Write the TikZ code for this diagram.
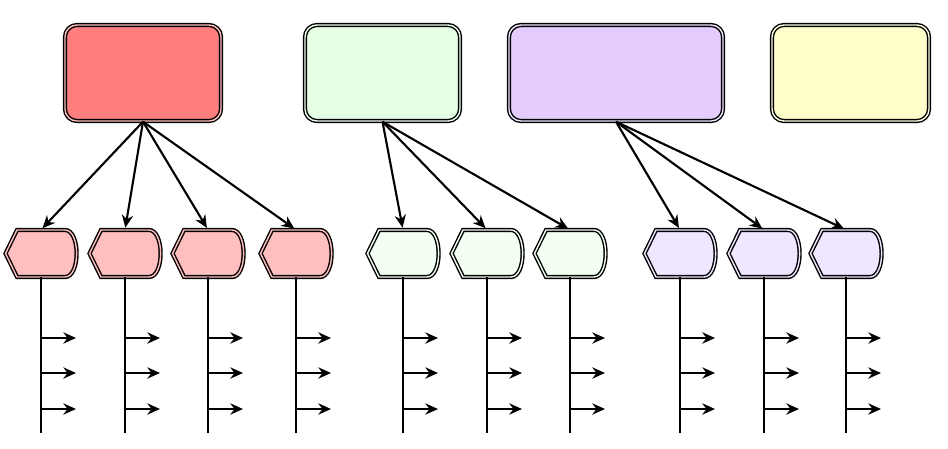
\documentclass[tikz,border=0pt]{standalone}
\usetikzlibrary{arrows.meta}
\definecolor{redtop}{HTML}{FF7F7F}
\definecolor{redsub}{HTML}{FFBFBF}
\definecolor{greentop}{HTML}{E5FFE5}
\definecolor{greensub}{HTML}{F2FFF2}
\definecolor{purpletop}{HTML}{E5CCFF}
\definecolor{purplesub}{HTML}{F0E6FF}
\definecolor{yellowtop}{HTML}{FFFFCC}

\begin{document}
\begin{tikzpicture}[x=0.025cm,y=-0.025cm,
   dbl/.style={draw=black,line width=1pt,double distance=1pt},
   topbox/.style={dbl,rounded corners=0.3cm,minimum height=2.4cm,inner sep=0pt},
   subbox/.style={inner sep=0pt,minimum width=1.775cm,minimum height=1.175cm},
   link/.style={-{Stealth[length=9pt,width=8pt]},line width=1.5pt,shorten >=1.5pt},
   stem/.style={line width=1.5pt},
   tick/.style={-{Stealth[length=9pt,width=8pt]},line width=1.5pt}]
   \useasboundingbox (0,0) rectangle (948,448);

   % top row
   \node[topbox,fill=redtop,double=redsub,minimum width=3.9cm] (red) at (143,73) {};
   \node[topbox,fill=greentop,double=greensub,minimum width=3.875cm] (green) at (382.5,73) {};
   \node[topbox,fill=purpletop,double=purplesub,minimum width=5.35cm] (purple) at (616,73) {};
   \node[topbox,fill=yellowtop,double=yellowtop!50,minimum width=3.925cm] (yellow) at (850.5,73) {};

   % second row with stems
   \foreach \n/\cx/\c in {r1/41/redsub,r2/125/redsub,r3/208/redsub,r4/296/redsub,
                          g1/403/greensub,g2/487/greensub,g3/570/greensub,
                          p1/680/purplesub,p2/764/purplesub,p3/846/purplesub} {
      \node[subbox] (\n) at (\cx,253.5) {};
      \draw[dbl,double=\c,fill=\c] (\cx-35.5,253.5) -- (\cx-24,230) -- (\cx+24,230)
         .. controls (\cx+39.5,230) and (\cx+39.5,277) .. (\cx+24,277) -- (\cx-24,277) -- cycle;
      \draw[stem] (\n.south) -- ++(0,156);
      \foreach \y in {338,373,409}
         \draw[tick] (\n.south |- 0,\y) -- ++(35,0);
   }

   \foreach \s in {r1,r2,r3,r4}
      \draw[link] (red.south) -- (\s.north);
   \foreach \s in {g1,g2,g3}
      \draw[link] (green.south) -- (\s.north);
   \foreach \s in {p1,p2,p3}
      \draw[link] (purple.south) -- (\s.north);
\end{tikzpicture}
\end{document}
